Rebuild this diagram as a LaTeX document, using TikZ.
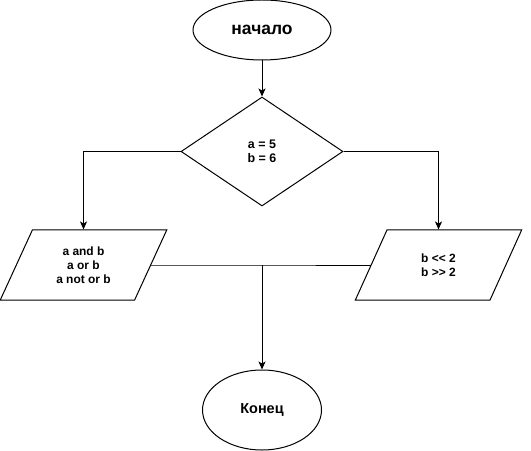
\documentclass[tikz,border=0pt]{standalone}
\usepackage{fontspec}
\setmainfont{Liberation Sans}[Ligatures=TeXOff]
\usetikzlibrary{arrows.meta, shapes.geometric, positioning}

\begin{document}
\begin{tikzpicture}[x=1bp, y=-1bp, line width=1bp,
	terminal/.style={ellipse, draw, fill=white, inner sep=0pt, font=\bfseries\fontsize{17.5}{20}\selectfont},
	decision/.style={diamond, draw, fill=white, inner sep=0pt, minimum width=162bp, minimum height=109bp, align=center, font=\bfseries\fontsize{12.5}{14}\selectfont},
	io/.style={trapezium, trapezium left angle=65, trapezium right angle=115, trapezium stretches=true, draw, fill=white, inner sep=0pt, minimum width=167bp, minimum height=70bp, align=center, font=\bfseries\fontsize{12}{14}\selectfont},
	arrow/.style={-{Stealth[length=8bp, width=7bp, inset=2bp]}}]
		\useasboundingbox (0, 0) rectangle (531, 451);
		\node[terminal, minimum width=138bp, minimum height=60bp] (start) at (262, 30) {начало};
		\node[decision] (cond) at (262, 151.5) {a = 5\\b = 6};
		\node[io] (left) at (83.5, 265) {a and b\\a or b\\a not or b};
		\node[io] (right) at (438.5, 265) {b << 2\\b >> 2};
		\node[terminal, minimum width=119bp, minimum height=80bp, font=\bfseries\fontsize{14.5}{17}\selectfont] (stop) at (262, 410) {Конец};
		\coordinate (join) at (left.east -| stop.north);
		\draw[arrow] (start) -- (cond);
		\draw[arrow] (cond.west) -| (left.north);
		\draw[arrow] (cond.east) -| (right.north);
		\draw (left.east) -- (join) -- (join -| right.west);
		\draw[arrow] (join) -- (stop);
	\end{tikzpicture}
\end{document}
